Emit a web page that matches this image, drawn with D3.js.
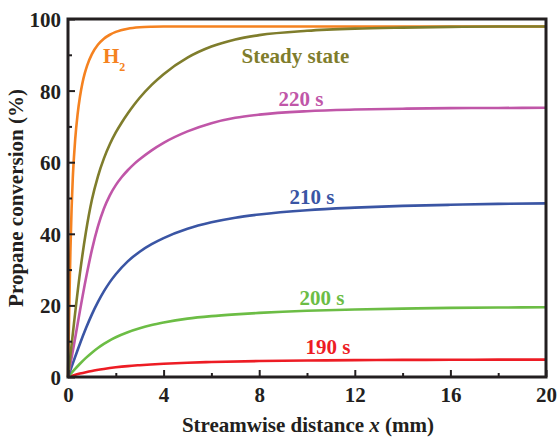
<!DOCTYPE html>
<html>
<head>
<meta charset="utf-8">
<script src="https://cdn.jsdelivr.net/npm/d3@7"></script>
<style>
  body { margin: 0; background: #fff; }
  svg { display: block; }
  text { font-family: "Liberation Serif", "Times New Roman", serif; font-weight: bold; }
</style>
</head>
<body>
<svg id="chart" width="559" height="442"></svg>
<script>
// ---- data ----
const xTicksMajor = [0, 4, 8, 12, 16, 20];
const xTicksMinor = [2, 6, 10, 14, 18];
const yTicksMajor = [0, 20, 40, 60, 80, 100];
const yTicksMinor = [10, 30, 50, 70, 90];

const h2X = [0, 0.05, 0.1, 0.15, 0.2, 0.25, 0.3, 0.4, 0.5, 0.6, 0.7, 0.8, 1, 1.25, 1.5, 1.75, 2, 2.5, 3, 3.5, 4, 6, 10, 15, 20];
const h2Y = [0, 18, 35, 47, 55.5, 61.5, 66.3, 73.3, 78.3, 82, 84.8, 87, 90.2, 92.8, 94.5, 95.6, 96.4, 97.3, 97.7, 97.85, 97.9, 97.9, 97.9, 97.9, 97.9];

const steadyX = [0, 0.25, 0.5, 0.75, 1, 1.25, 1.5, 1.75, 2, 2.25, 2.5, 2.75, 3, 3.5, 4, 5, 6, 7, 8, 10, 12, 14, 16, 18, 20];
const steadyY = [0, 15, 29, 40.5, 49.5, 56, 61, 65, 68.3, 71.1, 73.6, 75.9, 78, 81.6, 84.6, 89.2, 92.3, 94.3, 95.5, 96.7, 97.3, 97.6, 97.8, 97.9, 97.9];

const s220X = [0, 0.25, 0.5, 0.75, 1, 1.25, 1.5, 1.75, 2, 2.25, 2.5, 2.75, 3, 3.5, 4, 5, 6, 7, 8, 10, 12, 14, 16, 18, 20];
const s220Y = [0, 9, 18.5, 27.5, 35.5, 42, 47, 50.75, 53.6, 55.85, 57.75, 59.4, 60.8, 63.3, 65.4, 68.6, 70.9, 72.4, 73.3, 74.25, 74.7, 74.95, 75.1, 75.15, 75.2];

const s210X = [0, 0.25, 0.5, 0.75, 1, 1.25, 1.5, 1.75, 2, 2.5, 3, 3.5, 4, 5, 6, 7, 8, 10, 12, 14, 16, 18, 20];
const s210Y = [0, 4.7, 9.3, 13.6, 17.5, 20.9, 23.9, 26.5, 28.7, 32.3, 35.0, 37.1, 38.8, 41.4, 43.2, 44.5, 45.4, 46.6, 47.3, 47.8, 48.1, 48.35, 48.5];

const s200X = [0, 0.25, 0.5, 0.75, 1, 1.25, 1.5, 1.75, 2, 2.5, 3, 3.5, 4, 5, 6, 7, 8, 10, 12, 14, 16, 18, 20];
const s200Y = [0, 1.9, 3.7, 5.35, 6.8, 8.1, 9.25, 10.25, 11.1, 12.5, 13.6, 14.5, 15.2, 16.3, 17.0, 17.5, 17.9, 18.5, 18.85, 19.1, 19.3, 19.4, 19.5];

const s190X = [0, 0.25, 0.5, 0.75, 1, 1.5, 2, 2.5, 3, 4, 5, 6, 8, 10, 12, 14, 16, 18, 20];
const s190Y = [0, 0.5, 0.95, 1.35, 1.7, 2.25, 2.7, 3.05, 3.3, 3.7, 4.0, 4.2, 4.45, 4.6, 4.7, 4.77, 4.81, 4.84, 4.85];

const seriesNames = ["H2", "Steady state", "220 s", "210 s", "200 s", "190 s"];
const seriesColors = ["#f58220", "#7f7d2c", "#c056a8", "#3a55a4", "#6cbd45", "#ed1c24"];
const seriesXs = [h2X, steadyX, s220X, s210X, s200X, s190X];
const seriesYs = [h2Y, steadyY, s220Y, s210Y, s200Y, s190Y];

const xLabel = "Streamwise distance ";
const xLabelItalic = "x";
const xLabelUnit = " (mm)";
const yLabel = "Propane conversion (%)";

// ---- layout ----
const svg = d3.select("#chart");
const mLeft = 68, mRight = 546, mTop = 19, mBottom = 377;
const x = d3.scaleLinear().domain([0, 20]).range([mLeft, mRight]);
const y = d3.scaleLinear().domain([0, 100]).range([mBottom, mTop]);
const axisColor = "#231f20";

// curves (H2 first so steady state sits above it where they overlap)
const line = d3.line().curve(d3.curveMonotoneX);
const order = [0, 5, 4, 3, 2, 1];
order.forEach(i => {
  const pts = seriesXs[i].map((v, j) => [x(v), y(seriesYs[i][j])]);
  svg.append("path")
    .attr("d", line(pts))
    .attr("fill", "none")
    .attr("stroke", seriesColors[i])
    .attr("stroke-width", 2.6)
    .attr("stroke-linejoin", "round");
});

// axes
const fmt = d3.format("d");
const gx = svg.append("g").attr("transform", `translate(0,${mBottom})`)
  .call(d3.axisBottom(x).tickValues(xTicksMajor).tickSize(-7).tickPadding(10).tickFormat(fmt));
const gxm = svg.append("g").attr("transform", `translate(0,${mBottom})`)
  .call(d3.axisBottom(x).tickValues(xTicksMinor).tickSize(-4).tickFormat(""));
const gy = svg.append("g").attr("transform", `translate(${mLeft},0)`)
  .call(d3.axisLeft(y).tickValues(yTicksMajor).tickSize(-7).tickPadding(7).tickFormat(fmt));
const gym = svg.append("g").attr("transform", `translate(${mLeft},0)`)
  .call(d3.axisLeft(y).tickValues(yTicksMinor).tickSize(-4).tickFormat(""));
[gx, gxm, gy, gym].forEach(g => {
  g.select(".domain").remove();
  g.selectAll(".tick line").attr("stroke", axisColor).attr("stroke-width", 2);
  g.selectAll(".tick text").attr("fill", axisColor).attr("font-size", 21)
    .attr("font-family", "Liberation Serif, Times New Roman, serif").attr("font-weight", "bold");
});
gy.selectAll(".tick text").attr("dy", "0.36em");

// frame
svg.append("rect")
  .attr("x", mLeft).attr("y", mTop)
  .attr("width", mRight - mLeft).attr("height", mBottom - mTop)
  .attr("fill", "none").attr("stroke", axisColor).attr("stroke-width", 3);

// axis titles
const xt = svg.append("text")
  .attr("x", (mLeft + mRight) / 2 + 1).attr("y", 432)
  .attr("text-anchor", "middle").attr("font-size", 21).attr("fill", axisColor);
xt.append("tspan").text(xLabel);
xt.append("tspan").attr("font-style", "italic").text(xLabelItalic);
xt.append("tspan").text(xLabelUnit);

svg.append("text")
  .attr("transform", "translate(23,198) rotate(-90)")
  .attr("text-anchor", "middle").attr("font-size", 21).attr("fill", axisColor)
  .text(yLabel);

// series labels
const labelPos = [
  [103, 63], [241.5, 63], [278.5, 105.5], [289.5, 204], [299.5, 305], [305.5, 354]
];
seriesNames.forEach((name, i) => {
  const t = svg.append("text")
    .attr("x", labelPos[i][0]).attr("y", labelPos[i][1])
    .attr("font-size", 21).attr("fill", seriesColors[i]);
  if (name === "H2") {
    t.append("tspan").text("H");
    t.append("tspan").attr("font-size", 12).attr("dy", 8).text("2");
  } else {
    t.text(name);
  }
});
</script>
</body>
</html>
